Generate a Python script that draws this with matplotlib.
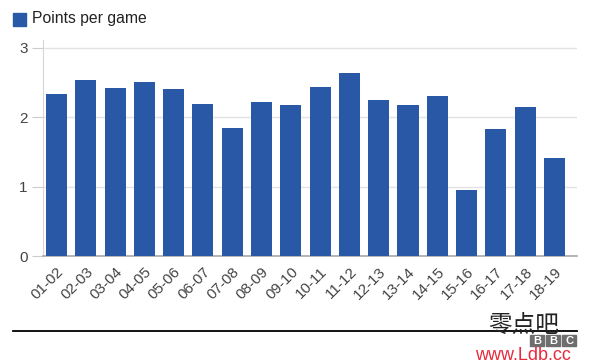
import matplotlib
matplotlib.use("Agg")
import matplotlib.pyplot as plt
from matplotlib.patches import Rectangle
from matplotlib.lines import Line2D

plt.rcParams['font.family'] = ['Liberation Sans', 'DejaVu Sans']

seasons = ["01-02", "02-03", "03-04", "04-05", "05-06", "06-07", "07-08", "08-09", "09-10",
           "10-11", "11-12", "12-13", "13-14", "14-15", "15-16", "16-17", "17-18", "18-19"]
points_per_game = [2.33, 2.54, 2.42, 2.51, 2.41, 2.19, 1.84, 2.22, 2.18,
                   2.44, 2.64, 2.25, 2.18, 2.31, 0.95, 1.83, 2.15, 1.41]
series_name = "Points per game"
y_ticks = [0, 1, 2, 3]

W, H = 590, 362
fig = plt.figure(figsize=(W / 100, H / 100), dpi=100)
ax = fig.add_axes([43 / W, 1 - 256 / H, (577 - 43) / W, (256 - 40) / H])

bar_color = "#2958a6"
x = list(range(len(seasons)))
ax.bar(x, points_per_game, width=0.72, color=bar_color, zorder=3)

ax.set_xlim(-0.46, len(seasons) - 1 + 0.77)
ax.set_ylim(0, 3.11)
ax.set_yticks(y_ticks)
ax.set_yticklabels([str(t) for t in y_ticks])
ax.grid(axis='y', color='#e3e3e3', linewidth=1, zorder=0)
ax.set_axisbelow(True)

for s in ['top', 'right']:
    ax.spines[s].set_visible(False)
ax.spines['left'].set_color('#d6d6d6')
ax.spines['bottom'].set_color('#a8a8a8')
ax.spines['bottom'].set_linewidth(1.2)

ax.tick_params(axis='y', length=8, color='#cccccc', labelsize=11, labelcolor='#444444', pad=3)
ax.tick_params(axis='x', length=0, labelsize=11, labelcolor='#444444', pad=6)
ax.set_xticks(x)
ax.set_xticklabels(seasons, rotation=45, ha='right', rotation_mode='anchor')

# Legend (top-left)
fig.add_artist(Rectangle((13 / W, 1 - 26 / H), 13 / W, 13 / H,
                         transform=fig.transFigure, color=bar_color))
fig.text(32.5 / W, 1 - 19 / H, series_name, fontsize=11.3, color='#222222',
         va='center', ha='left')

# Bottom separator line
fig.add_artist(Line2D([13 / W, 577 / W], [1 - 330.5 / H, 1 - 330.5 / H],
                      transform=fig.transFigure, color='black', linewidth=1.3))

# Watermark
fig.text(524 / W, 1 - 325 / H, "零点吧", fontsize=17, color='#222222',
         family=['Noto Sans CJK SC', 'DejaVu Sans'], ha='center', va='center')
for i, ch in enumerate("BBC"):
    x0 = 530 + i * 16
    fig.add_artist(Rectangle((x0 / W, 1 - 346 / H), 14 / W, 11 / H,
                             transform=fig.transFigure, color='#6e6e6e'))
    fig.text((x0 + 7) / W, 1 - 340.5 / H, ch, fontsize=8, color='white',
             fontweight='bold', ha='center', va='center')
fig.text(523 / W, 1 - 355 / H, "www.Ldb.cc", fontsize=13, color='#e8283c',
         ha='center', va='center')

fig.savefig("out.png", dpi=100)
